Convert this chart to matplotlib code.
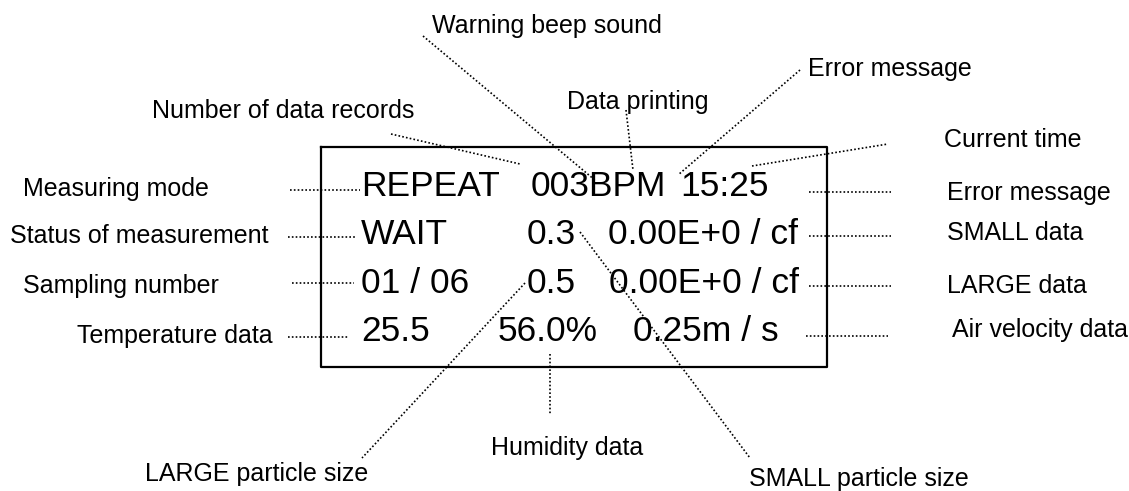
# annotated display screen of a particle counter, drawn in pixel coordinates
import matplotlib
matplotlib.use("Agg")
import matplotlib.pyplot as plt

W, H = 1129, 491

# text shown on the display, one list per row (field text, left x)
screen_rows = [
    ["REPEAT", "003BPM", "15:25"],
    ["WAIT", "0.3", "0.00E+0 / cf"],
    ["01 / 06", "0.5", "0.00E+0 / cf"],
    ["25.5", "56.0%", "0.25m / s"],
]
field_x = [
    [361, 531, 680],
    [361, 527, 608],
    [361, 527, 609],
    [361, 498, 633],
]
row_y = [183, 231, 280, 328]  # cap centre of each row

# labels on the left, each with a straight dotted leader to its row
left_labels = ["Measuring mode", "Status of measurement", "Sampling number", "Temperature data"]
left_label_x = [23, 10, 23, 77]
left_label_y = [187, 234, 284, 334]
left_leader_x = [(290, 360), (288, 357), (292, 354), (288, 348)]
left_leader_y = [190, 237, 283, 337]

# labels on the right
right_labels = ["Current time", "Error message", "SMALL data", "LARGE data", "Air velocity data"]
right_label_x = [944, 947, 947, 947, 952]
right_label_y = [138, 191, 231, 284, 328]
right_leaders = [
    ((752, 888), (166, 144)),
    ((809, 891), (192, 192)),
    ((809, 891), (236, 236)),
    ((809, 891), (286, 286)),
    ((806, 888), (336, 336)),
]

# labels above and below, leaders point into the screen
top_labels = ["Warning beep sound", "Error message", "Number of data records", "Data printing"]
top_label_x = [432, 808, 152, 567]
top_label_y = [24, 67, 109, 100]
top_leaders = [
    ((423, 596), (36, 181)),
    ((800, 678), (70, 175)),
    ((391, 520), (134, 164)),
    ((626, 633), (110, 170)),
]

bottom_labels = ["Humidity data", "LARGE particle size", "SMALL particle size"]
bottom_label_x = [491, 145, 749]
bottom_label_y = [446, 472, 477]
bottom_leaders = [
    ((550, 550), (354, 414)),
    ((525, 362), (283, 458)),
    ((580, 750), (232, 458)),
]

box = (321, 147, 827, 367)  # left, top, right, bottom

FONT = "Liberation Sans"
LABEL_SIZE = 18
SCREEN_SIZE = 25.5
dots = dict(color="black", lw=1.2, ls=(0, (1, 1.3)))


def put(ax, x, y, s, size):
    # y is the centre of the capitals, convert to baseline
    em = size * 100 / 72
    ax.text(x, y + 0.358 * em, s, fontsize=size, family=FONT,
            ha="left", va="baseline", color="black")


fig = plt.figure(figsize=(W / 100, H / 100), dpi=100)
ax = fig.add_axes([0, 0, 1, 1])
ax.set_xlim(0, W)
ax.set_ylim(H, 0)
ax.axis("off")

l, t, r, b = box
ax.plot([l, r, r, l, l], [t, t, b, b, t], color="black", lw=1.6)

for texts, xs, y in zip(screen_rows, field_x, row_y):
    for s, x in zip(texts, xs):
        put(ax, x, y, s, SCREEN_SIZE)

for s, x, y, (x0, x1), ly in zip(left_labels, left_label_x, left_label_y,
                                 left_leader_x, left_leader_y):
    put(ax, x, y, s, LABEL_SIZE)
    ax.plot([x0, x1], [ly, ly], **dots)

for s, x, y, (xs, ys) in zip(right_labels, right_label_x, right_label_y, right_leaders):
    put(ax, x, y, s, LABEL_SIZE)
    ax.plot(xs, ys, **dots)

for s, x, y, (xs, ys) in zip(top_labels, top_label_x, top_label_y, top_leaders):
    put(ax, x, y, s, LABEL_SIZE)
    ax.plot(xs, ys, **dots)

for s, x, y, (xs, ys) in zip(bottom_labels, bottom_label_x, bottom_label_y, bottom_leaders):
    put(ax, x, y, s, LABEL_SIZE)
    ax.plot(xs, ys, **dots)

fig.savefig("out.png", dpi=100, facecolor="white")
